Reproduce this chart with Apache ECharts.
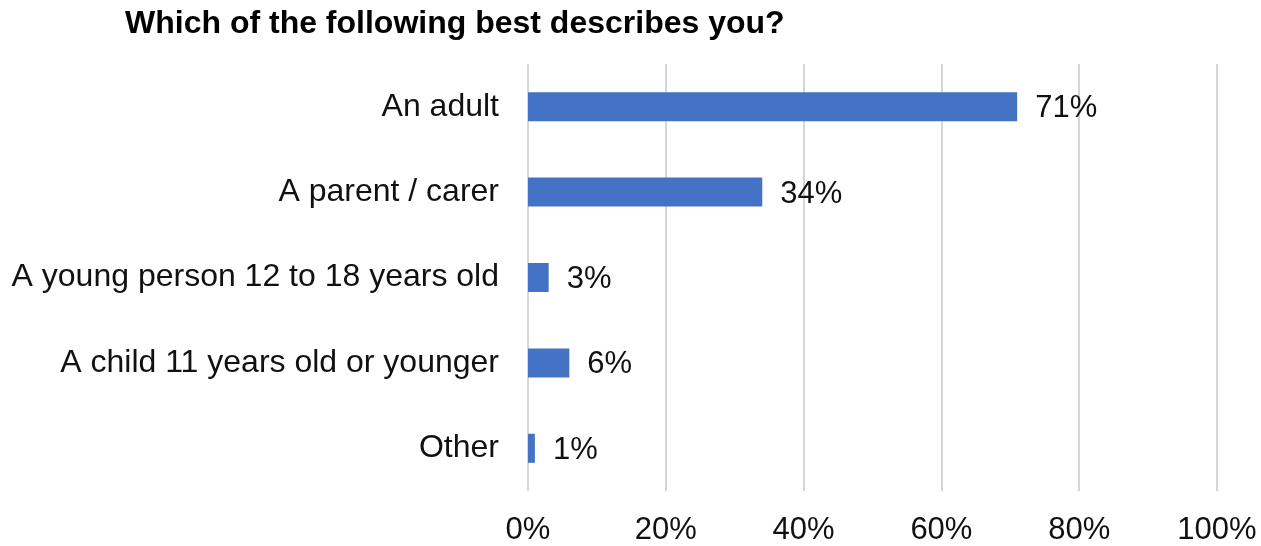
<!DOCTYPE html>
<html><head><meta charset="utf-8">
<script src="https://cdn.jsdelivr.net/npm/echarts@6/dist/echarts.min.js"></script>
<style>html,body{margin:0;padding:0;background:#fff}#c{width:1261px;height:546px}</style>
</head><body><div id="c"></div>
<script>
const categories = ["An adult", "A parent / carer", "A young person 12 to 18 years old", "A child 11 years old or younger", "Other"];
const values = [71, 34, 3, 6, 1];
const labels = ["71%", "34%", "3%", "6%", "1%"];
const ticks = [0, 20, 40, 60, 80, 100];
const chart = echarts.init(document.getElementById('c'));
chart.setOption({
  animation: false,
  title: {text: "Which of the following best describes you?", left: 120, top: 3,
    textStyle: {fontFamily: "Liberation Sans", fontWeight: "bold", fontSize: 32, color: "#000"}},
  grid: {left: 528, right: 44, top: 64, bottom: 51, containLabel: false},
  xAxis: {type: "value", min: ticks[0], max: ticks[ticks.length - 1], interval: 20,
    axisLine: {show: false}, axisTick: {show: false},
    axisLabel: {formatter: v => v + "%", fontFamily: "Liberation Sans", fontSize: 31, color: "#111", margin: 24},
    splitLine: {lineStyle: {color: "#d6d6d6", width: 2}}},
  yAxis: {type: "category", data: categories, inverse: true,
    axisLine: {show: false}, axisTick: {show: false},
    axisLabel: {fontFamily: "Liberation Sans", fontSize: 32, color: "#111", margin: 29, padding: [4, 0, 0, 0]}},
  series: [{type: "bar", data: values, barWidth: 29,
    itemStyle: {color: "#4472c4"},
    label: {show: true, position: "right", distance: 18, offset: [0, 2], formatter: p => labels[p.dataIndex],
      fontFamily: "Liberation Sans", fontSize: 31, color: "#111"}}]
});
</script></body></html>
